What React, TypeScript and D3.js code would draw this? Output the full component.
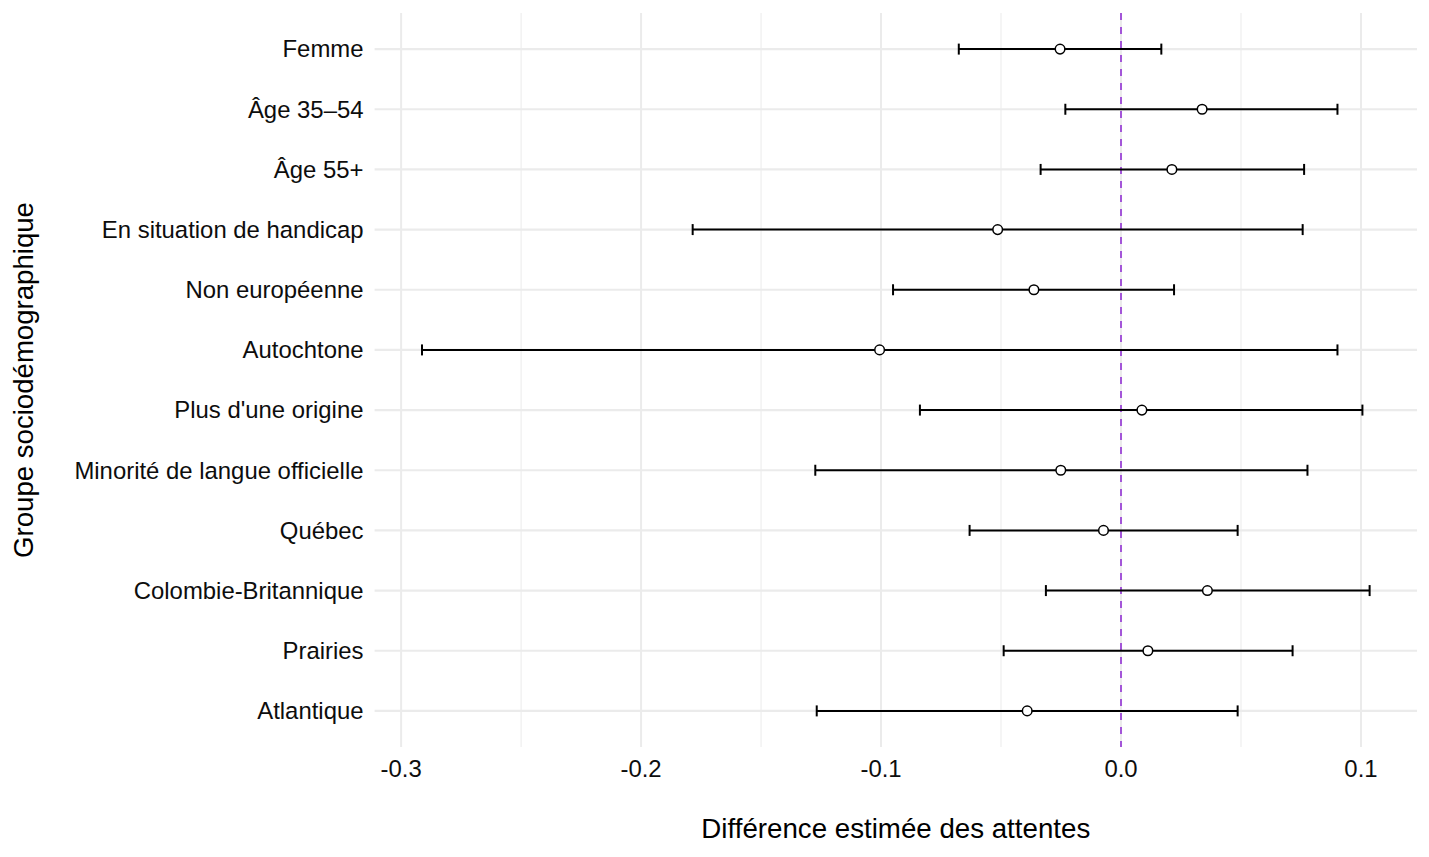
import { useEffect, useRef } from "react"
import * as d3 from "d3"

// Groupes, du haut vers le bas
const groups = [
  "Femme",
  "Âge 35–54",
  "Âge 55+",
  "En situation de handicap",
  "Non européenne",
  "Autochtone",
  "Plus d'une origine",
  "Minorité de langue officielle",
  "Québec",
  "Colombie-Britannique",
  "Prairies",
  "Atlantique",
]

const estimates = [-0.0254, 0.0338, 0.0212, -0.0514, -0.0363, -0.1006, 0.0087, -0.0251, -0.0073, 0.036, 0.0112, -0.0391]
const lower = [-0.0676, -0.0232, -0.0335, -0.1785, -0.095, -0.2913, -0.0838, -0.1274, -0.0631, -0.0313, -0.0489, -0.1268]
const upper = [0.0168, 0.0902, 0.0763, 0.0757, 0.0221, 0.0902, 0.1006, 0.0777, 0.0486, 0.1036, 0.0715, 0.0486]

const majorTicks = [-0.3, -0.2, -0.1, 0.0, 0.1]
const minorTicks = [-0.25, -0.15, -0.05, 0.05]

const xTitle = "Différence estimée des attentes"
const yTitle = "Groupe sociodémographique"

export default function App() {
  const svgRef = useRef<SVGSVGElement>(null)

  useEffect(() => {
    if (!svgRef.current) return
    d3.select(svgRef.current).selectAll("*").remove()

    const svg = d3.select(svgRef.current)
    const font = "'Liberation Sans', Arial, Helvetica, sans-serif"

    const left = 374.6
    const right = 1417
    const top = 13
    const bottom = 747

    const rows = groups.map((g, i) => ({ name: g, est: estimates[i], lo: lower[i], hi: upper[i] }))

    // x domain with ggplot-like 5% expansion
    const lo = d3.min(lower) as number
    const hi = d3.max(upper) as number
    const pad = (hi - lo) * 0.05
    const x = d3.scaleLinear().domain([lo - pad, hi + pad]).range([left, right])

    const y = d3.scalePoint<string>().domain(groups).range([top, bottom]).padding(0.6)

    const grid = svg.append("g")

    grid
      .selectAll(".minor")
      .data(minorTicks)
      .enter()
      .append("line")
      .attr("x1", (d) => x(d))
      .attr("x2", (d) => x(d))
      .attr("y1", top)
      .attr("y2", bottom)
      .attr("stroke", "#EBEBEB")
      .attr("stroke-width", 1)

    grid
      .selectAll(".major")
      .data(majorTicks)
      .enter()
      .append("line")
      .attr("x1", (d) => x(d))
      .attr("x2", (d) => x(d))
      .attr("y1", top)
      .attr("y2", bottom)
      .attr("stroke", "#EBEBEB")
      .attr("stroke-width", 2)

    grid
      .selectAll(".hgrid")
      .data(groups)
      .enter()
      .append("line")
      .attr("x1", left)
      .attr("x2", right)
      .attr("y1", (d) => y(d) as number)
      .attr("y2", (d) => y(d) as number)
      .attr("stroke", "#EBEBEB")
      .attr("stroke-width", 2.2)

    // reference line at 0
    svg
      .append("line")
      .attr("x1", x(0))
      .attr("x2", x(0))
      .attr("y1", top)
      .attr("y2", bottom)
      .attr("stroke", "#A355D8")
      .attr("stroke-width", 2)
      .attr("stroke-dasharray", "7,7")

    // error bars
    const bars = svg.append("g").selectAll("g").data(rows).enter().append("g")
    const cap = 5.5

    bars
      .append("line")
      .attr("x1", (d) => x(d.lo))
      .attr("x2", (d) => x(d.hi))
      .attr("y1", (d) => y(d.name) as number)
      .attr("y2", (d) => y(d.name) as number)
      .attr("stroke", "black")
      .attr("stroke-width", 2)

    bars
      .append("line")
      .attr("x1", (d) => x(d.lo))
      .attr("x2", (d) => x(d.lo))
      .attr("y1", (d) => (y(d.name) as number) - cap)
      .attr("y2", (d) => (y(d.name) as number) + cap)
      .attr("stroke", "black")
      .attr("stroke-width", 2)

    bars
      .append("line")
      .attr("x1", (d) => x(d.hi))
      .attr("x2", (d) => x(d.hi))
      .attr("y1", (d) => (y(d.name) as number) - cap)
      .attr("y2", (d) => (y(d.name) as number) + cap)
      .attr("stroke", "black")
      .attr("stroke-width", 2)

    bars
      .append("circle")
      .attr("cx", (d) => x(d.est))
      .attr("cy", (d) => y(d.name) as number)
      .attr("r", 4.8)
      .attr("fill", "white")
      .attr("stroke", "black")
      .attr("stroke-width", 1.5)

    // y labels
    svg
      .append("g")
      .selectAll("text")
      .data(groups)
      .enter()
      .append("text")
      .attr("x", 363.5)
      .attr("y", (d) => (y(d) as number) + 8.4)
      .attr("text-anchor", "end")
      .attr("font-family", font)
      .attr("font-size", 23.9)
      .attr("fill", "#0d0d0d")
      .text((d) => d)

    // x tick labels
    svg
      .append("g")
      .selectAll("text")
      .data(majorTicks)
      .enter()
      .append("text")
      .attr("x", (d) => x(d))
      .attr("y", 777)
      .attr("text-anchor", "middle")
      .attr("font-family", font)
      .attr("font-size", 23.9)
      .attr("fill", "#0d0d0d")
      .text((d) => d3.format(".1f")(d).replace("−", "-"))

    // axis titles
    svg
      .append("text")
      .attr("x", (left + right) / 2)
      .attr("y", 838)
      .attr("text-anchor", "middle")
      .attr("font-family", font)
      .attr("font-size", 27.7)
      .attr("fill", "black")
      .text(xTitle)

    svg
      .append("text")
      .attr("transform", `translate(33,${(top + bottom) / 2}) rotate(-90)`)
      .attr("text-anchor", "middle")
      .attr("font-family", font)
      .attr("font-size", 27.6)
      .attr("fill", "black")
      .text(yTitle)
  }, [])

  return (
    <svg
      ref={svgRef}
      width={1429}
      height={857}
      style={{ position: "absolute", left: 0, top: 0, background: "white" }}
    />
  )
}
